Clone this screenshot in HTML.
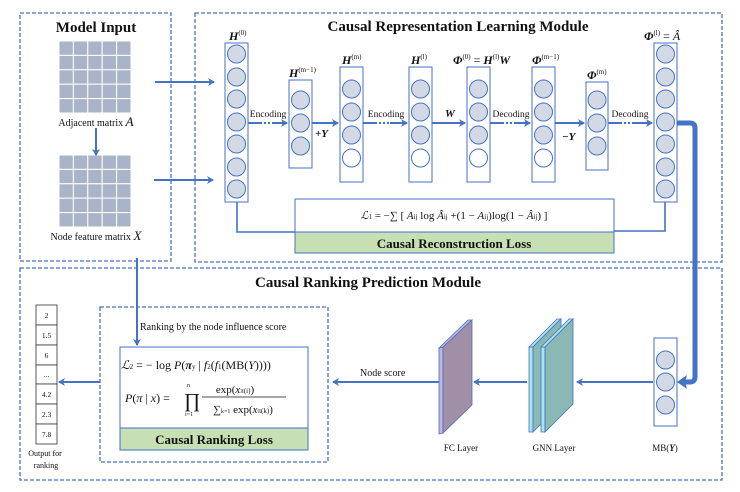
<!DOCTYPE html>
<html><head><meta charset="utf-8"><style>
html,body{margin:0;padding:0;background:#fff;}
svg{display:block;}
text{font-family:"Liberation Serif",serif;fill:#111;}
</style></head><body>
<svg width="740" height="492" viewBox="0 0 740 492" xmlns="http://www.w3.org/2000/svg">
<defs>
<marker id="ah" markerWidth="8" markerHeight="8" refX="6" refY="4" orient="auto" markerUnits="userSpaceOnUse">
<path d="M0,0 L7,4 L0,8 L2,4 Z" fill="#4472c4"/></marker>
</defs>
<g fill="none" stroke="#4472c4" stroke-width="1.3" stroke-dasharray="4,2">
<rect x="20" y="13" width="151" height="248"/>
<rect x="195" y="13" width="527" height="249"/>
<rect x="20" y="268" width="702" height="212"/>
<rect x="100" y="307" width="228" height="155"/>
</g>
<text x="96" y="32" font-size="15" font-weight="bold" text-anchor="middle">Model Input</text>
<text x="458" y="31" font-size="15" font-weight="bold" text-anchor="middle">Causal Representation Learning Module</text>
<text x="368" y="287" font-size="15" font-weight="bold" text-anchor="middle">Causal Ranking Prediction Module</text>
<!-- matrices -->
<g fill="#aab4c8" stroke="#fff" stroke-width="1">
<g id="mat">
<rect x="59" y="41" width="14.4" height="14.4"/><rect x="73.4" y="41" width="14.4" height="14.4"/><rect x="87.8" y="41" width="14.4" height="14.4"/><rect x="102.2" y="41" width="14.4" height="14.4"/><rect x="116.6" y="41" width="14.4" height="14.4"/>
<rect x="59" y="55.4" width="14.4" height="14.4"/><rect x="73.4" y="55.4" width="14.4" height="14.4"/><rect x="87.8" y="55.4" width="14.4" height="14.4"/><rect x="102.2" y="55.4" width="14.4" height="14.4"/><rect x="116.6" y="55.4" width="14.4" height="14.4"/>
<rect x="59" y="69.8" width="14.4" height="14.4"/><rect x="73.4" y="69.8" width="14.4" height="14.4"/><rect x="87.8" y="69.8" width="14.4" height="14.4"/><rect x="102.2" y="69.8" width="14.4" height="14.4"/><rect x="116.6" y="69.8" width="14.4" height="14.4"/>
<rect x="59" y="84.2" width="14.4" height="14.4"/><rect x="73.4" y="84.2" width="14.4" height="14.4"/><rect x="87.8" y="84.2" width="14.4" height="14.4"/><rect x="102.2" y="84.2" width="14.4" height="14.4"/><rect x="116.6" y="84.2" width="14.4" height="14.4"/>
<rect x="59" y="98.6" width="14.4" height="14.4"/><rect x="73.4" y="98.6" width="14.4" height="14.4"/><rect x="87.8" y="98.6" width="14.4" height="14.4"/><rect x="102.2" y="98.6" width="14.4" height="14.4"/><rect x="116.6" y="98.6" width="14.4" height="14.4"/>
</g>
<use href="#mat" y="114"/>
</g>
<text x="96" y="126" font-size="10" text-anchor="middle">Adjacent matrix <tspan font-style="italic" font-size="13">A</tspan></text>
<text x="96" y="240" font-size="10" text-anchor="middle">Node feature matrix <tspan font-style="italic" font-size="13">X</tspan></text>
<g stroke="#4472c4" stroke-width="2" fill="none" marker-end="url(#ah)">
<line x1="96" y1="128" x2="96" y2="155"/>
<line x1="155" y1="82" x2="214" y2="82"/>
<line x1="154" y1="180" x2="213" y2="180"/>
<line x1="312" y1="123" x2="338" y2="123"/>
<line x1="432" y1="123" x2="465" y2="123"/>
<line x1="555" y1="123" x2="584" y2="123"/>
<line x1="137" y1="258" x2="137" y2="345"/>
<line x1="100" y1="382" x2="59" y2="382"/>
<line x1="440" y1="382" x2="333" y2="382"/>
<line x1="527" y1="382" x2="474" y2="382"/>
<line x1="653" y1="382" x2="577" y2="382"/>
</g>
<!-- encoding/decoding dotted arrows -->
<g stroke="#4472c4" stroke-width="2" fill="none">
<path d="M248,123 H260" /><path d="M260,123 H274" stroke-dasharray="2,2"/><path d="M274,123 H287" marker-end="url(#ah)"/>
<path d="M363,123 H375" /><path d="M375,123 H390" stroke-dasharray="2,2"/><path d="M390,123 H407" marker-end="url(#ah)"/>
<path d="M490,123 H502" /><path d="M502,123 H516" stroke-dasharray="2,2"/><path d="M516,123 H530" marker-end="url(#ah)"/>
<path d="M608,123 H620" /><path d="M620,123 H634" stroke-dasharray="2,2"/><path d="M634,123 H652" marker-end="url(#ah)"/>
<path d="M237,202 V232 H295" stroke-width="1.6"/>
<path d="M665,202 V231 H614" stroke-width="1.6"/>
</g>
<path d="M677,123 H690 Q695,123 695,128 V377 Q695,382 690,382 H684" stroke="#4472c4" stroke-width="5" fill="none"/>
<path d="M677,382 L687,375 L685,382 L687,389 Z" fill="#4472c4"/>
<g font-size="9.5" text-anchor="middle">
<text x="268" y="117">Encoding</text><text x="386" y="117">Encoding</text>
<text x="511" y="117">Decoding</text><text x="630" y="117">Decoding</text>
</g>
<g font-style="italic" font-weight="bold" font-size="11">
<text x="315" y="137">+Y</text><text x="445" y="117">W</text><text x="562" y="140">−Y</text>
</g>
<!-- columns -->
<g stroke="#4472c4" stroke-width="1" fill="#fff">
<rect x="225" y="43" width="23" height="159"/>
<rect x="289" y="80" width="23" height="88"/>
<rect x="340" y="67" width="23" height="115"/>
<rect x="409" y="67" width="23" height="115"/>
<rect x="467" y="67" width="23" height="115"/>
<rect x="532" y="67" width="23" height="115"/>
<rect x="586" y="82" width="22" height="88"/>
<rect x="654" y="43" width="23" height="159"/>
<rect x="654" y="338" width="23" height="88"/>
</g>
<g stroke="#4472c4" stroke-width="1" fill="#d3d9e4">
<circle cx="236.5" cy="54" r="9"/><circle cx="236.5" cy="77" r="9"/><circle cx="236.5" cy="99" r="9"/><circle cx="236.5" cy="122" r="9"/><circle cx="236.5" cy="144" r="9"/><circle cx="236.5" cy="167" r="9"/><circle cx="236.5" cy="189" r="9"/>
<circle cx="665.5" cy="54" r="9"/><circle cx="665.5" cy="77" r="9"/><circle cx="665.5" cy="99" r="9"/><circle cx="665.5" cy="122" r="9"/><circle cx="665.5" cy="144" r="9"/><circle cx="665.5" cy="167" r="9"/><circle cx="665.5" cy="189" r="9"/>
<circle cx="300.5" cy="100" r="9"/><circle cx="300.5" cy="123" r="9"/><circle cx="300.5" cy="146" r="9"/>
<circle cx="597" cy="100" r="9"/><circle cx="597" cy="123" r="9"/><circle cx="597" cy="146" r="9"/>
<circle cx="665.5" cy="360" r="9"/><circle cx="665.5" cy="382" r="9"/><circle cx="665.5" cy="405" r="9"/>
<circle cx="351.5" cy="89" r="9"/><circle cx="351.5" cy="112" r="9"/><circle cx="351.5" cy="135" r="9"/><circle cx="351.5" cy="158" r="9" fill="#fff"/>
<circle cx="420.5" cy="89" r="9"/><circle cx="420.5" cy="112" r="9"/><circle cx="420.5" cy="135" r="9"/><circle cx="420.5" cy="158" r="9" fill="#fff"/>
<circle cx="478.5" cy="89" r="9"/><circle cx="478.5" cy="112" r="9"/><circle cx="478.5" cy="135" r="9"/><circle cx="478.5" cy="158" r="9" fill="#fff"/>
<circle cx="543.5" cy="89" r="9"/><circle cx="543.5" cy="112" r="9"/><circle cx="543.5" cy="135" r="9"/><circle cx="543.5" cy="158" r="9" fill="#fff"/>
</g>
<g font-style="italic" font-weight="bold" font-size="12">
<text x="229" y="40">H<tspan font-size="7" font-weight="normal" font-style="normal" dy="-5">(0)</tspan></text>
<text x="289" y="77">H<tspan font-size="7" font-weight="normal" font-style="normal" dy="-5">(m−1)</tspan></text>
<text x="342" y="64">H<tspan font-size="7" font-weight="normal" font-style="normal" dy="-5">(m)</tspan></text>
<text x="411" y="64">H<tspan font-size="7" font-weight="normal" font-style="normal" dy="-5">(l)</tspan></text>
<text x="453" y="64">Φ<tspan font-size="7" font-weight="normal" font-style="normal" dy="-5">(0)</tspan><tspan dy="5" font-style="normal" font-weight="normal"> = </tspan>H<tspan font-size="7" font-weight="normal" font-style="normal" dy="-5">(l)</tspan><tspan dy="5">W</tspan></text>
<text x="532" y="64">Φ<tspan font-size="7" font-weight="normal" font-style="normal" dy="-5">(m−1)</tspan></text>
<text x="587" y="79">Φ<tspan font-size="7" font-weight="normal" font-style="normal" dy="-5">(m)</tspan></text>
<text x="644" y="40">Φ<tspan font-size="7" font-weight="normal" font-style="normal" dy="-5">(l)</tspan><tspan dy="5" font-style="normal" font-weight="normal"> = </tspan><tspan font-weight="normal">Â</tspan></text>
</g>
<!-- recon loss -->
<rect x="295" y="199" width="319" height="33" fill="#fff" stroke="#4472c4" stroke-width="1"/>
<rect x="295" y="232" width="319" height="21" fill="#c6e0b4" stroke="#4472c4" stroke-width="1"/>
<text x="454" y="219" font-size="11" text-anchor="middle"><tspan font-style="italic">ℒ</tspan><tspan font-size="7">1</tspan> = −∑ [ <tspan font-style="italic">A</tspan><tspan font-size="7">ij</tspan> log <tspan font-style="italic">Â</tspan><tspan font-size="7">ij</tspan> +(1 − <tspan font-style="italic">A</tspan><tspan font-size="7">ij</tspan>)log(1 − <tspan font-style="italic">Â</tspan><tspan font-size="7">ij</tspan>) ]</text>
<text x="454" y="248" font-size="13" font-weight="bold" text-anchor="middle">Causal Reconstruction Loss</text>
<!-- ranking -->
<text x="140" y="330" font-size="10">Ranking by the node influence score</text>
<rect x="120" y="347" width="188" height="81" fill="#fff" stroke="#4472c4" stroke-width="1"/>
<rect x="120" y="428" width="188" height="22" fill="#c6e0b4" stroke="#4472c4" stroke-width="1"/>
<text x="214" y="444" font-size="13" font-weight="bold" text-anchor="middle">Causal Ranking Loss</text>
<text x="121" y="369" font-size="12"><tspan font-style="italic">ℒ</tspan><tspan font-size="7">2</tspan> = − log <tspan font-style="italic">P</tspan>(<tspan font-style="italic" font-weight="bold">π</tspan><tspan font-size="7">y</tspan> | <tspan font-style="italic">f</tspan><tspan font-size="7">2</tspan>(<tspan font-style="italic">f</tspan><tspan font-size="7">1</tspan>(MB(<tspan font-style="italic">Y</tspan>))))</text>
<text x="125" y="402" font-size="12"><tspan font-style="italic">P</tspan>(<tspan font-style="italic">π</tspan> | <tspan font-style="italic">x</tspan>) =</text>
<text x="184" y="407" font-size="20">∏</text>
<text x="187" y="387" font-size="6">n</text><text x="185" y="416" font-size="6">i=1</text>
<text x="235" y="393" font-size="11" text-anchor="middle">exp(<tspan font-style="italic">x</tspan><tspan font-size="7">π(i)</tspan>)</text>
<line x1="202" y1="397" x2="286" y2="397" stroke="#111" stroke-width="0.8"/>
<text x="243" y="413" font-size="11" text-anchor="middle">∑<tspan font-size="6">k=1</tspan> exp(<tspan font-style="italic">x</tspan><tspan font-size="7">π(k)</tspan>)</text>
<!-- output column -->
<g stroke="#333" stroke-width="0.8" fill="#fff">
<rect x="36" y="305" width="21" height="20"/><rect x="36" y="325" width="21" height="20"/><rect x="36" y="345" width="21" height="20"/><rect x="36" y="365" width="21" height="19"/><rect x="36" y="384" width="21" height="20"/><rect x="36" y="404" width="21" height="20"/><rect x="36" y="424" width="21" height="20"/>
</g>
<g font-size="7.5" text-anchor="middle">
<text x="46.5" y="318">2</text><text x="46.5" y="338">1.5</text><text x="46.5" y="358">6</text><text x="46.5" y="377">...</text><text x="46.5" y="397">4.2</text><text x="46.5" y="417">2.3</text><text x="46.5" y="437">7.8</text>
<text x="45" y="456" font-size="8">Output for</text><text x="46" y="468" font-size="8">ranking</text>
</g>
<text x="360" y="376" font-size="10">Node score</text>
<!-- FC layer -->
<polygon points="439,348 443,347 443,433 439,434" fill="#c6b4d8" stroke="#4472c4" stroke-width="0.8"/>
<polygon points="439,348 468,320 472,320 443,347" fill="#c6b4d8" stroke="#4472c4" stroke-width="0.8"/>
<polygon points="443,347 472,320 472,405 443,433" fill="#a08fa6" stroke="#4472c4" stroke-width="0.8"/>
<!-- GNN layers -->
<g stroke="#4472c4" stroke-width="0.8">
<polygon points="529,347 533,347 533,432 529,432" fill="#a8e4ea"/>
<polygon points="529,347 557,319 561,319 533,347" fill="#a8e4ea"/>
<polygon points="533,347 561,319 561,404 533,432" fill="#8ab8b4"/>
<polygon points="541,347 545,347 545,432 541,432" fill="#a8e4ea"/>
<polygon points="541,347 569,319 573,319 545,347" fill="#a8e4ea"/>
<polygon points="545,347 573,319 573,404 545,432" fill="#8ab8b4"/>
</g>
<g font-size="9" text-anchor="middle">
<text x="461" y="451">FC Layer</text><text x="554" y="451">GNN Layer</text><text x="665" y="451">MB(<tspan font-style="italic" font-weight="bold">Y</tspan>)</text>
</g>
</svg>
</body></html>
